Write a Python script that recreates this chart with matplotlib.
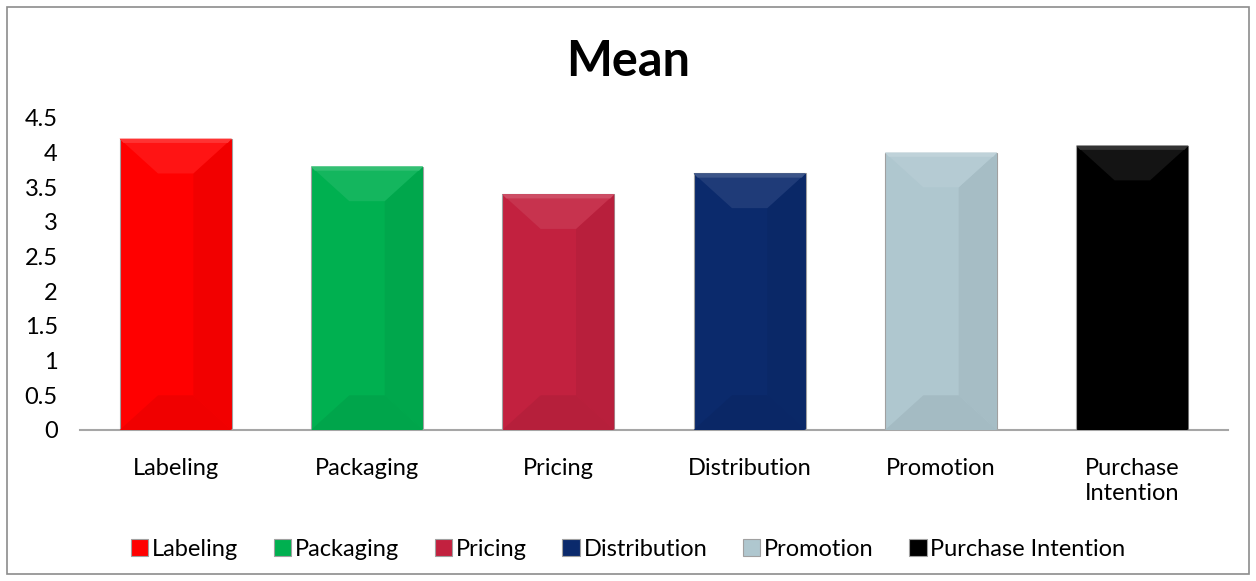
import matplotlib
matplotlib.use("Agg")
from matplotlib import pyplot as plt
from matplotlib.patches import Polygon, Rectangle
from matplotlib.colors import to_rgb

# dados do gráfico
categorias = ["Labeling", "Packaging", "Pricing", "Distribution", "Promotion", "Purchase Intention"]
rotulos_x = ["Labeling", "Packaging", "Pricing", "Distribution", "Promotion", "Purchase\nIntention"]
medias = [4.2, 3.8, 3.4, 3.7, 4.0, 4.1]
cores = ["#FF0000", "#00B050", "#C2213F", "#0B2A6C", "#AFC7CF", "#000000"]
ticks_y = [0, 0.5, 1, 1.5, 2, 2.5, 3, 3.5, 4, 4.5]
rotulos_y = ["0", "0.5", "1", "1.5", "2", "2.5", "3", "3.5", "4", "4.5"]

plt.rcParams['font.family'] = ['Lato', 'DejaVu Sans']


def misturar(cor, alvo, t):
    c = to_rgb(cor)
    a = to_rgb(alvo)
    return tuple(c[i] * (1 - t) + a[i] * t for i in range(3))


fig = plt.figure(figsize=(12.56, 5.81), dpi=100)
ax = fig.add_axes([80 / 1256, 1 - 430 / 581, 1148 / 1256, 312 / 581])

barras = ax.bar(range(len(categorias)), medias, width=0.585, color=cores,
                edgecolor="#A0A0A0", linewidth=0.8, label=categorias, zorder=2)

# efeito de chanfro nas barras (discreto)
bx = 0.2
by = 0.5
for b, cor in zip(barras, cores):
    x0, x1 = b.get_x(), b.get_x() + b.get_width()
    y0, y1 = 0, b.get_height()
    dir_ = Polygon([[x1, y0], [x1, y1], [x1 - bx, y1 - by], [x1 - bx, y0 + by]],
                   closed=True, facecolor=misturar(cor, "black", 0.05), edgecolor="none", zorder=3)
    topo = Polygon([[x0, y1], [x1, y1], [x1 - bx, y1 - by], [x0 + bx, y1 - by]],
                   closed=True, facecolor=misturar(cor, "white", 0.08), edgecolor="none", zorder=3)
    faixa = Polygon([[x0, y1], [x1, y1], [x1 - 0.02, y1 - 0.06], [x0 + 0.02, y1 - 0.06]],
                    closed=True, facecolor=misturar(cor, "white", 0.2), edgecolor="none", zorder=3)
    base = Polygon([[x0, y0], [x1, y0], [x1 - bx, y0 + by], [x0 + bx, y0 + by]],
                   closed=True, facecolor=misturar(cor, "black", 0.06), edgecolor="none", zorder=3)
    for p in (dir_, topo, faixa, base):
        ax.add_patch(p)

ax.set_xlim(-0.5, len(categorias) - 0.5)
ax.set_ylim(0, 4.5)
ax.set_yticks(ticks_y)
ax.set_yticklabels(rotulos_y, fontsize=17)
ax.set_xticks(range(len(categorias)))
ax.set_xticklabels(rotulos_x, fontsize=17, linespacing=1.25)
ax.tick_params(axis="x", length=0, pad=20)
ax.tick_params(axis="y", length=0, pad=16)
for s in ["top", "right", "left"]:
    ax.spines[s].set_visible(False)
ax.spines["bottom"].set_color("#A6A6A6")
ax.spines["bottom"].set_linewidth(1.5)

fig.text(0.5, 1 - 62 / 581, "Mean", ha="center", va="center", fontsize=35, fontweight="bold")

fig.legend(handles=barras, labels=categorias, loc="center", bbox_to_anchor=(0.5, 1 - 549 / 581),
           ncol=6, frameon=False, fontsize=17, handlelength=0.75, handleheight=0.75,
           handletextpad=0.15, columnspacing=1.5)

fig.add_artist(Rectangle((7 / 1256, 7 / 581), 1 - 14 / 1256, 1 - 14 / 581, transform=fig.transFigure,
                         fill=False, edgecolor="#8C8C8C", linewidth=1.2))

fig.savefig("out.png", dpi=100)
